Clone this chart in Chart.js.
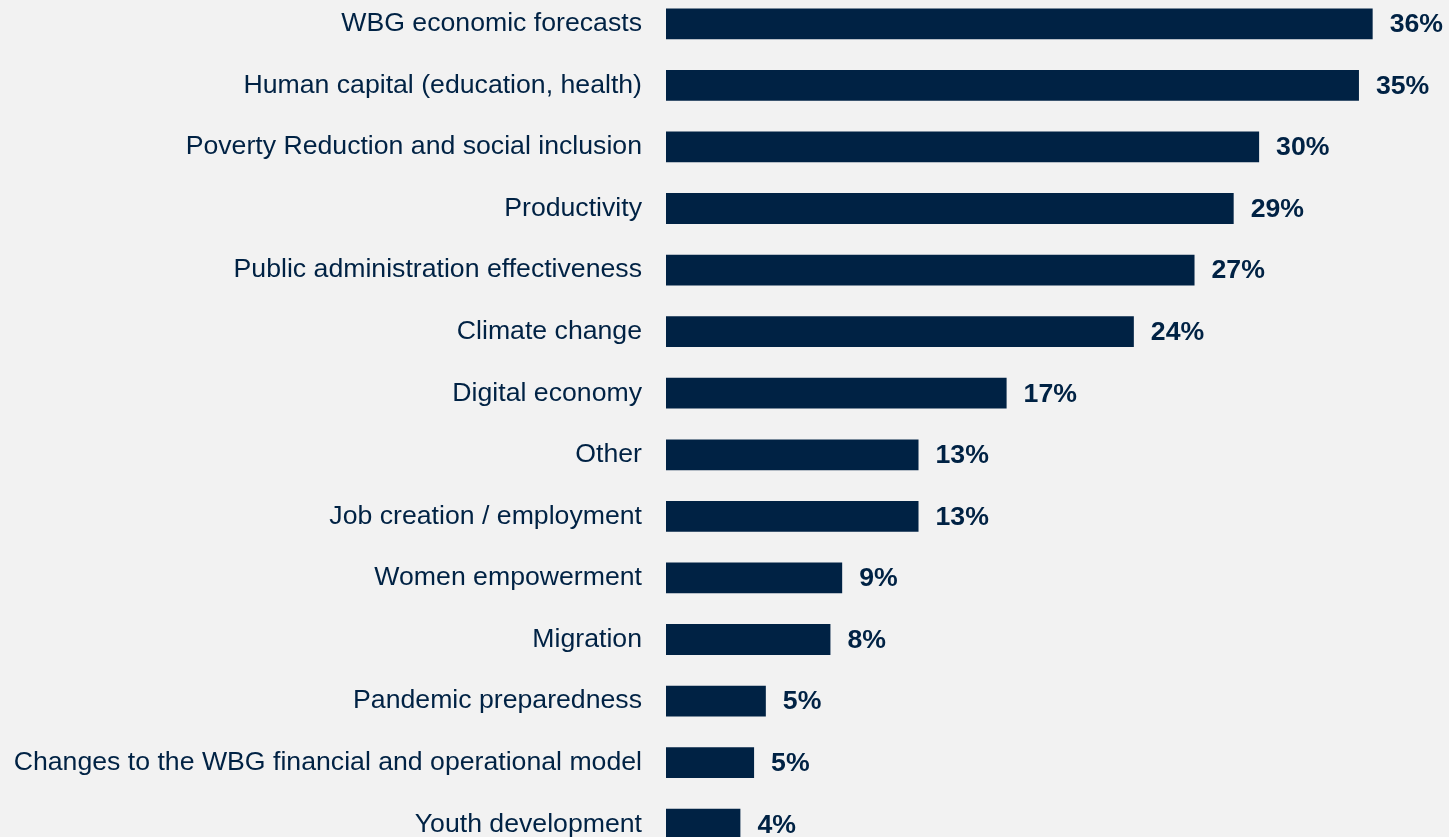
<!DOCTYPE html>
<html>
<head>
<meta charset="utf-8">
<script src="https://cdn.jsdelivr.net/npm/chart.js@4"></script>
<style>
    html, body { margin: 0; padding: 0; background: #f2f2f2; overflow: hidden; }
    #wrap { position: absolute; left: 0; top: -7px; width: 1449px; height: 862px; }
</style>
</head>
<body>
<div id="wrap"><canvas id="topics"></canvas></div>
<script>
const topics = [
    'WBG economic forecasts',
    'Human capital (education, health)',
    'Poverty Reduction and social inclusion',
    'Productivity',
    'Public administration effectiveness',
    'Climate change',
    'Digital economy',
    'Other',
    'Job creation / employment',
    'Women empowerment',
    'Migration',
    'Pandemic preparedness',
    'Changes to the WBG financial and operational model',
    'Youth development'
];
const shares = [36.1, 35.4, 30.3, 29.0, 27.0, 23.9, 17.4, 12.9, 12.9, 9.0, 8.4, 5.1, 4.5, 3.8];

const navy = '#002244';
const font = '"Liberation Sans", Arial, sans-serif';

// percent labels at the end of each bar
const valueLabels = {
    id: 'valueLabels',
    afterDatasetsDraw(chart) {
        const ctx = chart.ctx;
        const meta = chart.getDatasetMeta(0);
        ctx.save();
        ctx.font = 'bold 26.67px ' + font;
        ctx.fillStyle = navy;
        ctx.textAlign = 'left';
        ctx.textBaseline = 'middle';
        meta.data.forEach((bar, i) => {
            ctx.fillText(Math.round(shares[i]) + '%', bar.x + 17, bar.y + 1);
        });
        ctx.restore();
    }
};

new Chart(document.getElementById('topics'), {
    type: 'bar',
    data: {
        labels: topics,
        datasets: [{
            data: shares,
            backgroundColor: navy,
            barPercentage: 0.5,
            categoryPercentage: 1.0
        }]
    },
    options: {
        indexAxis: 'y',
        responsive: true,
        maintainAspectRatio: false,
        animation: false,
        layout: { padding: 0 },
        plugins: {
            legend: { display: false },
            tooltip: { enabled: false }
        },
        scales: {
            x: { display: false, min: 0, max: 40 },
            y: {
                afterFit: s => {
                    s.width = 666;
                    s.paddingTop = 0;
                    s.paddingBottom = 0;
                },
                grid: { display: false, drawTicks: false },
                border: { display: false },
                ticks: {
                    padding: 24,
                    color: navy,
                    font: { family: font, size: 26.67 }
                }
            }
        }
    },
    plugins: [valueLabels]
});
</script>
</body>
</html>
